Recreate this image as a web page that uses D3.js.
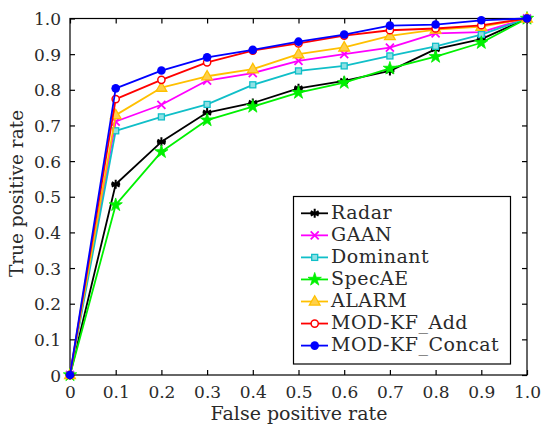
<!DOCTYPE html>
<html><head><meta charset="utf-8">
<script src="https://cdn.jsdelivr.net/npm/d3@7"></script>
<style>body{margin:0;background:#fff;} svg{display:block;}</style>
</head><body>
<svg id="chart" width="542" height="425"></svg>
<script>
const fpr = [0, 0.1, 0.2, 0.3, 0.4, 0.5, 0.6, 0.7, 0.8, 0.9, 1.0];
const radar    = [0, 0.535, 0.654, 0.736, 0.763, 0.804, 0.825, 0.853, 0.914, 0.942, 1.0];
const gaan     = [0, 0.711, 0.758, 0.826, 0.847, 0.881, 0.900, 0.918, 0.958, 0.962, 1.0];
const dominant = [0, 0.685, 0.724, 0.759, 0.814, 0.853, 0.867, 0.895, 0.922, 0.955, 1.0];
const specae   = [0, 0.477, 0.626, 0.715, 0.753, 0.792, 0.820, 0.860, 0.893, 0.932, 1.0];
const alarm    = [0, 0.729, 0.806, 0.838, 0.858, 0.900, 0.919, 0.951, 0.969, 0.977, 1.0];
const modAdd   = [0, 0.774, 0.828, 0.877, 0.910, 0.930, 0.952, 0.967, 0.972, 0.981, 1.0];
const modConcat= [0, 0.804, 0.854, 0.891, 0.912, 0.935, 0.955, 0.980, 0.983, 0.995, 1.0];
const seriesNames = ["Radar", "GAAN", "Dominant", "SpecAE", "ALARM", "MOD-KF_Add", "MOD-KF_Concat"];
const xTicks = [0, 0.1, 0.2, 0.3, 0.4, 0.5, 0.6, 0.7, 0.8, 0.9, 1.0];
const yTicks = [0, 0.1, 0.2, 0.3, 0.4, 0.5, 0.6, 0.7, 0.8, 0.9, 1.0];

const seriesValues = [radar, gaan, dominant, specae, alarm, modAdd, modConcat];
const colors = ["#000000", "#ff00ff", "#10bfc8", "#00f000", "#ffc000", "#ff0000", "#0000ff"];
const markers = ["asterisk", "x", "square", "star", "triangle", "circleOpen", "circle"];

const svg = d3.select("#chart");
const L = 70, R = 527, T = 18.5, B = 375;
const x = d3.scaleLinear().domain([0, 1]).range([L, R]);
const y = d3.scaleLinear().domain([0, 1]).range([B, T]);
const font = "DejaVu Serif";
const tickFmt = d => d === 0 ? "0" : d3.format(".1f")(d);

// frame
svg.append("rect").attr("x", L).attr("y", T).attr("width", R - L).attr("height", B - T)
  .attr("fill", "none").attr("stroke", "#000").attr("stroke-width", 1.2);

const tl = 5;
const axB = svg.append("g").attr("transform", `translate(0,${B})`)
  .call(d3.axisBottom(x).tickValues(xTicks).tickFormat(tickFmt).tickSizeInner(-tl).tickSizeOuter(0));
const axT = svg.append("g").attr("transform", `translate(0,${T})`)
  .call(d3.axisTop(x).tickValues(xTicks).tickFormat("").tickSizeInner(-tl).tickSizeOuter(0));
const axL = svg.append("g").attr("transform", `translate(${L},0)`)
  .call(d3.axisLeft(y).tickValues(yTicks).tickFormat(tickFmt).tickSizeInner(-tl).tickSizeOuter(0));
const axR = svg.append("g").attr("transform", `translate(${R},0)`)
  .call(d3.axisRight(y).tickValues(yTicks).tickFormat("").tickSizeInner(-tl).tickSizeOuter(0));
[axB, axT, axL, axR].forEach(a => {
  a.select(".domain").remove();
  a.selectAll("line").attr("stroke", "#000").attr("stroke-width", 1.2);
  a.selectAll("text").attr("font-family", font).attr("font-size", 17).attr("fill", "#2a2a2a");
});
axB.selectAll("text").attr("y", 22.5).attr("dy", null);
axL.selectAll("text").attr("x", -9).attr("dy", "0.36em");

function drawMarker(g, type, cx, cy, color) {
  const s = 4.5;
  if (type === "asterisk") {
    let d = "";
    for (let k = 0; k < 3; k++) {
      const a = Math.PI / 2 + k * Math.PI / 3;
      const dx = Math.cos(a) * s, dy = Math.sin(a) * s;
      d += `M${cx - dx},${cy - dy}L${cx + dx},${cy + dy}`;
    }
    d += `M${cx - s},${cy}L${cx + s},${cy}`;
    g.append("path").attr("d", d).attr("stroke", color).attr("stroke-width", 2).attr("fill", "none");
  } else if (type === "x") {
    const t = 4;
    g.append("path").attr("d", `M${cx - t},${cy - t}L${cx + t},${cy + t}M${cx - t},${cy + t}L${cx + t},${cy - t}`)
      .attr("stroke", color).attr("stroke-width", 1.8).attr("fill", "none");
  } else if (type === "square") {
    g.append("rect").attr("x", cx - 3).attr("y", cy - 3).attr("width", 6).attr("height", 6)
      .attr("fill", "#8fe0e4").attr("stroke", color).attr("stroke-width", 1.3);
  } else if (type === "star") {
    g.append("path").attr("d", d3.symbol().type(d3.symbolStar).size(55)())
      .attr("transform", `translate(${cx},${cy})`).attr("fill", color).attr("stroke", color).attr("stroke-width", 0.8);
  } else if (type === "triangle") {
    g.append("path").attr("d", d3.symbol().type(d3.symbolTriangle).size(50)())
      .attr("transform", `translate(${cx},${cy + 0.5})`).attr("fill", "#ffd04a").attr("stroke", color).attr("stroke-width", 1.3);
  } else if (type === "circleOpen") {
    g.append("circle").attr("cx", cx).attr("cy", cy).attr("r", 3.6)
      .attr("fill", "#fff").attr("stroke", color).attr("stroke-width", 1.5);
  } else if (type === "circle") {
    g.append("circle").attr("cx", cx).attr("cy", cy).attr("r", 4.3).attr("fill", color);
  }
}

const line = d3.line().x(d => x(d[0])).y(d => y(d[1]));
seriesValues.forEach((vals, i) => {
  const pts = fpr.map((f, j) => [f, vals[j]]);
  const g = svg.append("g");
  g.append("path").attr("d", line(pts)).attr("fill", "none").attr("stroke", colors[i])
    .attr("stroke-width", 1.8).attr("stroke-linejoin", "round");
  pts.forEach(p => drawMarker(g, markers[i], x(p[0]), y(p[1]), colors[i]));
});

// legend
const lg = svg.append("g");
lg.append("rect").attr("x", 293.5).attr("y", 196.5).attr("width", 217).attr("height", 167.5)
  .attr("fill", "#fff").attr("stroke", "#000").attr("stroke-width", 1.2);
seriesNames.forEach((n, i) => {
  const yy = 213.3 + i * 22.05;
  lg.append("line").attr("x1", 301).attr("x2", 328).attr("y1", yy).attr("y2", yy)
    .attr("stroke", colors[i]).attr("stroke-width", 1.8);
  drawMarker(lg, markers[i], 314.7, yy, colors[i]);
  lg.append("text").attr("x", 331).attr("y", yy).attr("dy", "0.3em")
    .attr("font-family", font).attr("font-size", 19).attr("letter-spacing", 0.5)
    .attr("fill", "#2a2a2a").text(n);
});

// axis labels
svg.append("text").attr("x", 299).attr("y", 420).attr("text-anchor", "middle")
  .attr("font-family", font).attr("font-size", 19).attr("fill", "#2a2a2a").text("False positive rate");
svg.append("text").attr("transform", `translate(23,193.5) rotate(-90)`).attr("text-anchor", "middle")
  .attr("font-family", font).attr("font-size", 18.5).attr("fill", "#2a2a2a").text("True positive rate");
</script>
</body></html>
